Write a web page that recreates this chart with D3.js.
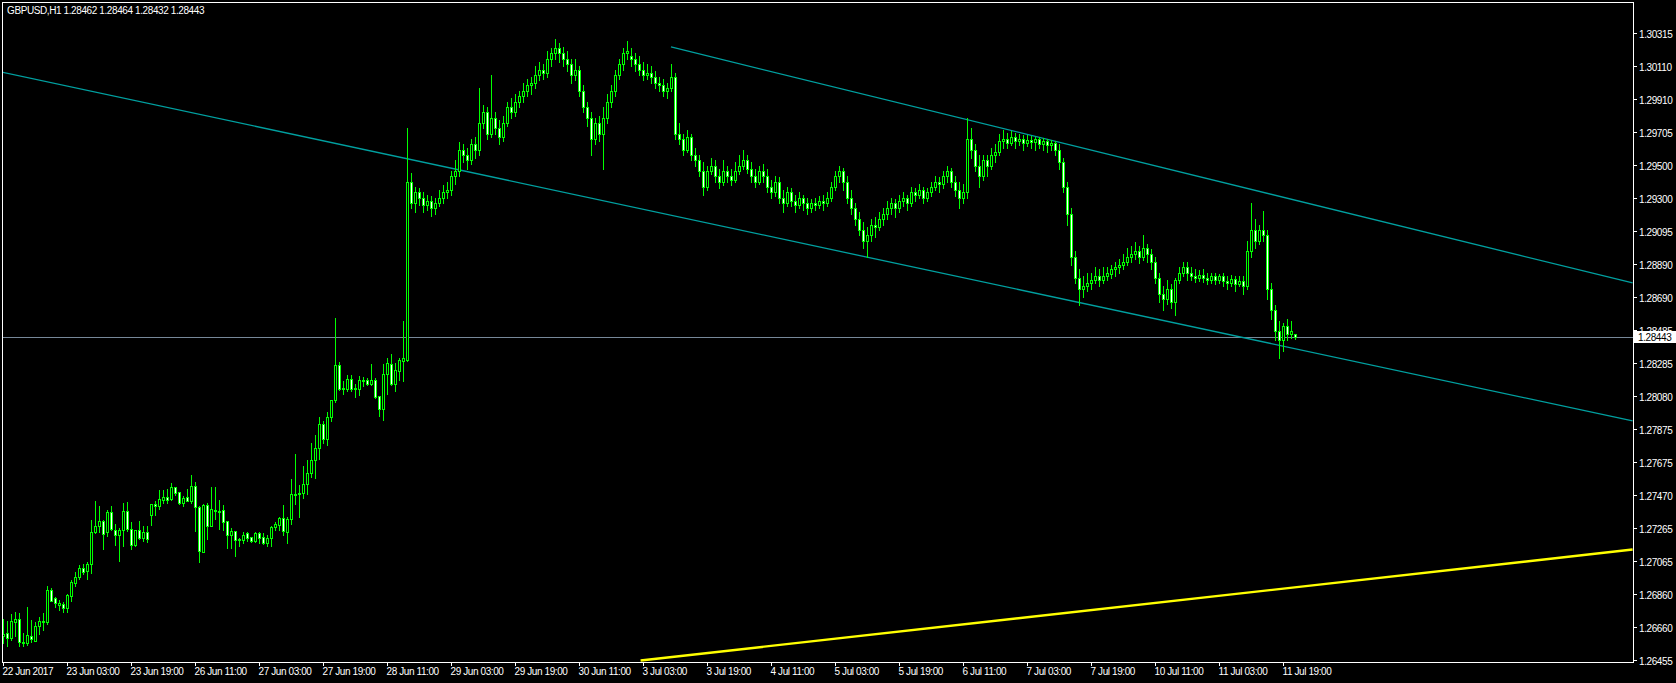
<!DOCTYPE html>
<html><head><meta charset="utf-8">
<script src="https://cdn.jsdelivr.net/npm/d3@7"></script>
<style>html,body{margin:0;padding:0;background:#000;overflow:hidden}</style>
</head><body><svg id="c" width="1676" height="683"></svg>
<script>
const titleText = "GBPUSD,H1  1.28462 1.28464 1.28432 1.28443";
const timeLabels = ["22 Jun 2017","23 Jun 03:00","23 Jun 19:00","26 Jun 11:00","27 Jun 03:00","27 Jun 19:00","28 Jun 11:00","29 Jun 03:00","29 Jun 19:00","30 Jun 11:00","3 Jul 03:00","3 Jul 19:00","4 Jul 11:00","5 Jul 03:00","5 Jul 19:00","6 Jul 11:00","7 Jul 03:00","7 Jul 19:00","10 Jul 11:00","11 Jul 03:00","11 Jul 19:00"];
const timeLabelBars = [0,16,32,48,64,80,96,112,128,144,160,176,192,208,224,240,256,272,288,304,320];
const priceTicks = [1.30315,1.30110,1.29910,1.29705,1.29500,1.29300,1.29095,1.28890,1.28690,1.28485,1.28285,1.28080,1.27875,1.27675,1.27470,1.27265,1.27065,1.26860,1.26660,1.26455];
const lastPrice = 1.28443;

const opens = [1.26600,1.26620,1.26588,1.26692,1.26707,1.26567,1.26559,1.26602,1.26575,1.26662,
1.26690,1.26692,1.26885,1.26836,1.26791,1.26797,1.26778,1.26852,1.26932,1.26963,
1.27020,1.27004,1.27043,1.27246,1.27277,1.27309,1.27246,1.27365,1.27254,1.27227,
1.27256,1.27371,1.27260,1.27164,1.27254,1.27203,1.27242,1.27350,1.27416,1.27400,
1.27441,1.27457,1.27445,1.27518,1.27488,1.27424,1.27457,1.27436,1.27527,1.27397,
1.27121,1.27408,1.27277,1.27379,1.27373,1.27379,1.27311,1.27227,1.27248,1.27192,
1.27195,1.27238,1.27211,1.27190,1.27236,1.27211,1.27178,1.27203,1.27272,1.27287,
1.27328,1.27240,1.27322,1.27473,1.27475,1.27484,1.27537,1.27604,1.27686,1.27758,
1.27908,1.27813,1.27949,1.28053,1.28269,1.28121,1.28121,1.28182,1.28129,1.28121,
1.28174,1.28176,1.28152,1.28176,1.28078,1.28002,1.28213,1.28277,1.28154,1.28236,
1.28297,1.28302,
1.29398,1.29268,1.29334,1.29301,1.29255,1.29281,1.29235,1.29268,1.29301,1.29334,
1.29347,1.29432,1.29465,1.29597,1.29564,1.29531,1.29630,1.29597,1.29761,1.29827,
1.29695,1.29794,1.29728,1.29676,1.29761,1.29860,1.29827,1.29893,1.29926,1.29959,
1.29992,1.30005,1.30057,1.30090,1.30071,1.30156,1.30189,1.30222,1.30189,1.30156,
1.30123,1.30057,1.30090,1.29959,1.29860,1.29794,1.29663,1.29761,1.29695,1.29794,
1.29893,1.29959,1.30057,1.30123,1.30189,1.30176,1.30156,1.30123,1.30090,1.30057,
1.30071,1.30044,1.30005,1.29992,1.29959,1.29978,1.30044,1.29695,1.29663,1.29597,
1.29676,1.29564,1.29531,1.29465,1.29366,1.29465,1.29498,1.29432,1.29399,1.29465,
1.29432,1.29413,1.29465,1.29498,1.29531,1.29478,1.29432,1.29399,1.29465,1.29432,
1.29366,1.29334,1.29399,1.29301,1.29268,1.29334,1.29281,1.29255,1.29301,1.29268,
1.29235,1.29268,1.29255,1.29281,1.29268,1.29301,1.29366,1.29432,1.29465,1.29399,
1.29301,1.29235,1.29169,1.29103,1.29037,1.29070,1.29136,1.29123,1.29169,1.29202,
1.29235,1.29268,1.29235,1.29281,1.29301,1.29268,1.29334,1.29320,1.29347,1.29301,
1.29334,1.29366,1.29399,1.29386,1.29432,1.29465,1.29399,1.29347,1.29301,1.29334,
1.29663,1.29597,1.29498,1.29432,1.29531,1.29498,1.29564,1.29584,1.29649,1.29663,
1.29636,1.29676,1.29649,1.29663,1.29636,1.29656,1.29643,1.29663,1.29630,1.29649,
1.29623,1.29636,1.29597,1.29518,1.29366,1.29202,1.28939,1.28807,1.28741,1.28755,
1.28774,1.28794,1.28820,1.28794,1.28820,1.28834,1.28860,1.28873,1.28886,1.28906,
1.28939,1.28952,1.28972,1.28939,1.28991,1.28952,1.28906,1.28807,1.28708,1.28676,
1.28741,1.28662,1.28794,1.28840,1.28873,1.28840,1.28820,1.28807,1.28827,1.28807,
1.28794,1.28820,1.28794,1.28820,1.28787,1.28774,1.28801,1.28768,1.28787,1.28755,
1.28972,1.29103,1.29037,1.29103,1.29070,1.28741,1.28610,1.28478,1.28426,1.28511,
1.28465,1.28462];
const highs = [1.26709,1.26696,1.26739,1.26752,1.26746,1.26623,1.26782,1.26702,1.26690,1.26721,
1.26746,1.26912,1.26899,1.26844,1.26823,1.26811,1.26864,1.26948,1.26999,1.27037,
1.27045,1.27057,1.27318,1.27434,1.27404,1.27318,1.27379,1.27402,1.27291,1.27268,
1.27422,1.27428,1.27303,1.27256,1.27311,1.27277,1.27279,1.27416,1.27436,1.27502,
1.27502,1.27506,1.27545,1.27522,1.27490,1.27465,1.27506,1.27594,1.27551,1.27404,
1.27416,1.27422,1.27520,1.27520,1.27441,1.27412,1.27313,1.27270,1.27250,1.27205,
1.27246,1.27244,1.27215,1.27240,1.27240,1.27236,1.27223,1.27277,1.27307,1.27338,
1.27410,1.27334,1.27570,1.27723,1.27533,1.27650,1.27687,1.27791,1.27840,1.27951,
1.27926,1.27979,1.28055,1.28560,1.28287,1.28170,1.28209,1.28209,1.28154,1.28201,
1.28195,1.28189,1.28277,1.28189,1.28078,1.28277,1.28312,1.28338,1.28281,1.28312,
1.28542,1.29730,
1.29452,1.29366,1.29360,1.29334,1.29320,1.29314,1.29301,1.29347,1.29380,1.29399,
1.29465,1.29531,1.29643,1.29630,1.29610,1.29663,1.29676,1.29978,1.29873,1.29860,
1.30057,1.29827,1.29781,1.29807,1.29893,1.29913,1.29939,1.29959,1.30005,1.30031,
1.30044,1.30110,1.30136,1.30123,1.30202,1.30222,1.30275,1.30255,1.30228,1.30202,
1.30156,1.30156,1.30110,1.29992,1.29893,1.29827,1.29794,1.29807,1.29860,1.29939,
1.29992,1.30090,1.30156,1.30222,1.30268,1.30222,1.30189,1.30176,1.30136,1.30123,
1.30110,1.30084,1.30044,1.30031,1.30005,1.30123,1.30071,1.29761,1.29695,1.29715,
1.29695,1.29610,1.29564,1.29518,1.29498,1.29544,1.29531,1.29478,1.29531,1.29498,
1.29478,1.29518,1.29564,1.29597,1.29564,1.29518,1.29478,1.29498,1.29511,1.29478,
1.29413,1.29432,1.29426,1.29347,1.29366,1.29360,1.29320,1.29334,1.29320,1.29301,
1.29294,1.29301,1.29314,1.29320,1.29334,1.29399,1.29465,1.29498,1.29485,1.29432,
1.29347,1.29268,1.29215,1.29149,1.29123,1.29169,1.29182,1.29215,1.29235,1.29281,
1.29301,1.29294,1.29320,1.29334,1.29320,1.29366,1.29360,1.29386,1.29366,1.29360,
1.29399,1.29432,1.29426,1.29465,1.29498,1.29485,1.29432,1.29399,1.29386,1.29794,
1.29728,1.29630,1.29564,1.29564,1.29564,1.29610,1.29630,1.29695,1.29715,1.29702,
1.29709,1.29702,1.29695,1.29689,1.29689,1.29682,1.29676,1.29676,1.29669,1.29663,
1.29656,1.29649,1.29630,1.29544,1.29399,1.29235,1.28972,1.28860,1.28820,1.28840,
1.28840,1.28873,1.28860,1.28873,1.28873,1.28886,1.28906,1.28926,1.28952,1.28991,
1.29005,1.29031,1.29005,1.29070,1.29018,1.28985,1.28939,1.28840,1.28755,1.28794,
1.28768,1.28807,1.28873,1.28906,1.28906,1.28873,1.28860,1.28853,1.28860,1.28840,
1.28840,1.28840,1.28834,1.28840,1.28820,1.28827,1.28820,1.28820,1.28820,1.29037,
1.29268,1.29169,1.29136,1.29222,1.29103,1.28774,1.28643,1.28544,1.28531,1.28557,
1.28544,1.28464];
const lows = [1.26559,1.26543,1.26580,1.26600,1.26543,1.26539,1.26549,1.26563,1.26575,1.26618,
1.26641,1.26674,1.26817,1.26784,1.26764,1.26748,1.26752,1.26821,1.26912,1.26951,
1.26985,1.26955,1.26992,1.27236,1.27244,1.27141,1.27219,1.27256,1.27164,1.27067,
1.27154,1.27252,1.27141,1.27158,1.27201,1.27186,1.27184,1.27287,1.27348,1.27387,
1.27420,1.27424,1.27441,1.27469,1.27416,1.27400,1.27436,1.27424,1.27252,1.27061,
1.27117,1.27201,1.27277,1.27326,1.27260,1.27256,1.27145,1.27145,1.27098,1.27154,
1.27174,1.27190,1.27182,1.27184,1.27178,1.27170,1.27158,1.27158,1.27256,1.27256,
1.27227,1.27178,1.27293,1.27416,1.27338,1.27455,1.27477,1.27582,1.27578,1.27694,
1.27789,1.27780,1.27928,1.28045,1.28117,1.28094,1.28113,1.28113,1.28076,1.28086,
1.28141,1.28150,1.28150,1.28070,1.27957,1.27932,1.28092,1.28148,1.28111,1.28178,
1.28172,1.28298,
1.29235,1.29215,1.29255,1.29215,1.29228,1.29189,1.29202,1.29248,1.29268,1.29301,
1.29320,1.29386,1.29432,1.29518,1.29478,1.29511,1.29544,1.29564,1.29728,1.29663,
1.29676,1.29695,1.29630,1.29649,1.29742,1.29794,1.29807,1.29860,1.29893,1.29926,
1.29939,1.29978,1.30024,1.30031,1.30044,1.30110,1.30156,1.30136,1.30110,1.30084,
1.30005,1.30024,1.29926,1.29827,1.29742,1.29564,1.29630,1.29649,1.29478,1.29761,
1.29860,1.29926,1.30031,1.30090,1.30156,1.30110,1.30084,1.30057,1.30024,1.30031,
1.30005,1.29978,1.29959,1.29926,1.29913,1.29959,1.29663,1.29630,1.29564,1.29584,
1.29531,1.29498,1.29432,1.29320,1.29347,1.29445,1.29399,1.29360,1.29380,1.29399,
1.29380,1.29399,1.29445,1.29478,1.29452,1.29399,1.29366,1.29386,1.29399,1.29334,
1.29301,1.29314,1.29268,1.29215,1.29248,1.29248,1.29215,1.29235,1.29228,1.29202,
1.29215,1.29228,1.29235,1.29228,1.29248,1.29281,1.29347,1.29399,1.29347,1.29268,
1.29202,1.29136,1.29070,1.28991,1.28939,1.29037,1.29057,1.29103,1.29136,1.29169,
1.29202,1.29182,1.29215,1.29248,1.29228,1.29248,1.29281,1.29301,1.29268,1.29281,
1.29314,1.29347,1.29334,1.29360,1.29399,1.29366,1.29314,1.29235,1.29268,1.29301,
1.29544,1.29465,1.29366,1.29413,1.29432,1.29478,1.29518,1.29564,1.29610,1.29610,
1.29623,1.29610,1.29623,1.29597,1.29617,1.29610,1.29597,1.29610,1.29597,1.29584,
1.29597,1.29564,1.29478,1.29334,1.29136,1.28886,1.28774,1.28643,1.28689,1.28728,
1.28741,1.28774,1.28755,1.28774,1.28794,1.28807,1.28820,1.28840,1.28860,1.28886,
1.28906,1.28926,1.28899,1.28919,1.28906,1.28860,1.28774,1.28662,1.28610,1.28649,
1.28623,1.28577,1.28774,1.28820,1.28794,1.28794,1.28781,1.28787,1.28781,1.28768,
1.28774,1.28768,1.28774,1.28755,1.28741,1.28755,1.28728,1.28755,1.28708,1.28741,
1.28939,1.28991,1.29018,1.29037,1.28676,1.28557,1.28426,1.28314,1.28360,1.28426,
1.28439,1.28432];
const closes = [1.26616,1.26588,1.26694,1.26707,1.26563,1.26559,1.26608,1.26584,1.26664,1.26694,
1.26694,1.26885,1.26821,1.26805,1.26807,1.26778,1.26856,1.26934,1.26965,1.27020,
1.26999,1.27045,1.27242,1.27279,1.27309,1.27233,1.27365,1.27260,1.27227,1.27256,
1.27371,1.27260,1.27160,1.27254,1.27203,1.27242,1.27199,1.27416,1.27400,1.27445,
1.27457,1.27441,1.27518,1.27486,1.27424,1.27451,1.27436,1.27527,1.27395,1.27123,
1.27408,1.27277,1.27383,1.27371,1.27369,1.27307,1.27227,1.27250,1.27195,1.27199,
1.27225,1.27207,1.27190,1.27236,1.27207,1.27176,1.27207,1.27272,1.27293,1.27328,
1.27248,1.27322,1.27475,1.27477,1.27484,1.27537,1.27604,1.27684,1.27758,1.27908,
1.27813,1.27949,1.28053,1.28269,1.28125,1.28129,1.28182,1.28125,1.28121,1.28176,
1.28178,1.28152,1.28176,1.28076,1.28002,1.28213,1.28281,1.28154,1.28240,1.28302,
1.28314,1.29398,
1.29268,1.29334,1.29301,1.29255,1.29281,1.29235,1.29268,1.29301,1.29334,1.29347,
1.29432,1.29465,1.29597,1.29564,1.29531,1.29630,1.29597,1.29761,1.29827,1.29695,
1.29794,1.29728,1.29676,1.29761,1.29860,1.29827,1.29893,1.29926,1.29959,1.29992,
1.30005,1.30057,1.30090,1.30071,1.30156,1.30189,1.30222,1.30189,1.30156,1.30123,
1.30057,1.30090,1.29959,1.29860,1.29794,1.29663,1.29761,1.29695,1.29794,1.29893,
1.29959,1.30057,1.30123,1.30189,1.30202,1.30156,1.30123,1.30090,1.30057,1.30071,
1.30044,1.30005,1.29992,1.29959,1.29978,1.30044,1.29695,1.29663,1.29597,1.29676,
1.29564,1.29531,1.29465,1.29366,1.29465,1.29498,1.29432,1.29399,1.29465,1.29432,
1.29413,1.29465,1.29498,1.29531,1.29478,1.29432,1.29399,1.29465,1.29432,1.29366,
1.29334,1.29399,1.29301,1.29268,1.29334,1.29281,1.29255,1.29301,1.29268,1.29235,
1.29268,1.29255,1.29281,1.29268,1.29301,1.29366,1.29432,1.29465,1.29399,1.29301,
1.29235,1.29169,1.29103,1.29037,1.29070,1.29136,1.29123,1.29169,1.29202,1.29235,
1.29268,1.29235,1.29281,1.29301,1.29268,1.29334,1.29320,1.29347,1.29301,1.29334,
1.29366,1.29399,1.29386,1.29432,1.29465,1.29399,1.29347,1.29301,1.29334,1.29663,
1.29597,1.29498,1.29432,1.29531,1.29498,1.29564,1.29584,1.29649,1.29663,1.29636,
1.29676,1.29649,1.29663,1.29636,1.29656,1.29643,1.29663,1.29630,1.29649,1.29623,
1.29636,1.29597,1.29518,1.29366,1.29202,1.28939,1.28807,1.28741,1.28755,1.28774,
1.28794,1.28820,1.28794,1.28820,1.28840,1.28860,1.28873,1.28886,1.28906,1.28939,
1.28952,1.28972,1.28939,1.28991,1.28952,1.28906,1.28807,1.28708,1.28676,1.28741,
1.28662,1.28794,1.28840,1.28873,1.28840,1.28820,1.28807,1.28827,1.28807,1.28794,
1.28820,1.28794,1.28820,1.28787,1.28774,1.28801,1.28768,1.28787,1.28755,1.28972,
1.29103,1.29037,1.29103,1.29070,1.28741,1.28610,1.28478,1.28426,1.28511,1.28465,
1.28478,1.28443];

// trend lines: [bar index, price]
const channelLower = [[-0.8,1.30077],[407.4,1.27927]];
const channelUpper = [[167,1.30229],[407.4,1.28776]];
const yellowLine = [[159.4,1.26452],[407.4,1.27135]];

const W = 1676, H = 683;
const L = 2, R = 1633, T = 2, B = 662;
const svg = d3.select("#c");
svg.append("rect").attr("width",W).attr("height",H).attr("fill","#000");

const x = d3.scaleLinear().domain([0,320]).range([3,1283]);
const y = d3.scaleLinear().domain([1.26455,1.30315]).range([660,33]);

const font = "'Liberation Sans', Arial, sans-serif";

svg.append("defs").append("clipPath").attr("id","plot")
  .append("rect").attr("x",L+1).attr("y",T+1).attr("width",R-L-1).attr("height",B-T-1);

const plot = svg.append("g").attr("clip-path","url(#plot)");

// price line
plot.append("line").attr("x1",L).attr("x2",R)
  .attr("y1",Math.round(y(lastPrice))+0.5).attr("y2",Math.round(y(lastPrice))+0.5)
  .attr("stroke","#778899").attr("stroke-width",1);

// trend lines
const lineGen = d3.line().x(d=>x(d[0])).y(d=>y(d[1]));
plot.append("path").attr("d",lineGen(channelLower)).attr("fill","none").attr("stroke","#00A0A0").attr("stroke-width",1.3);
plot.append("path").attr("d",lineGen(channelUpper)).attr("fill","none").attr("stroke","#00A0A0").attr("stroke-width",1.3);
plot.append("path").attr("d",lineGen(yellowLine)).attr("fill","none").attr("stroke","#FFFF00").attr("stroke-width",2.4);

// candles
const candles = opens.map((o,i)=>({i,o,h:highs[i],l:lows[i],c:closes[i]}));
const green = "#00FF00";
const cg = plot.append("g");
candles.forEach(d=>{
  const cx = Math.round(x(d.i));
  const yh = Math.round(y(d.h)), yl = Math.round(y(d.l));
  const yt = Math.round(y(Math.max(d.o,d.c))), yb = Math.round(y(Math.min(d.o,d.c)));
  cg.append("rect").attr("x",cx).attr("width",1).attr("y",yh).attr("height",Math.max(1,yl-yh+1)).attr("fill",green);
  cg.append("rect").attr("x",cx-1).attr("width",3).attr("y",yt).attr("height",Math.max(1,yb-yt+1)).attr("fill",green);
  if (yb-yt-1>0) {
    cg.append("rect").attr("x",cx).attr("width",1).attr("y",yt+1).attr("height",yb-yt-1)
      .attr("fill", d.c < d.o ? "#FFFFFF" : "#000000");
  }
});

// frame
svg.append("rect").attr("x",L+0.5).attr("y",T+0.5).attr("width",R-L).attr("height",B-T)
  .attr("fill","none").attr("stroke","#fff").attr("stroke-width",1);

// right axis
const ra = svg.append("g");
priceTicks.forEach(v=>{
  const yy = Math.round(y(v))+0.5;
  ra.append("line").attr("x1",R).attr("x2",R+4).attr("y1",yy).attr("y2",yy).attr("stroke","#fff");
  ra.append("text").attr("x",R+6).attr("y",yy+4).attr("fill","#fff")
    .attr("font-family",font).attr("font-size","10px").attr("letter-spacing","-0.4px").text(d3.format(".5f")(v));
});
// last price label
const ly = Math.round(y(lastPrice));
ra.append("rect").attr("x",R+1).attr("y",ly-6).attr("width",W-R-1).attr("height",12).attr("fill","#fff");
ra.append("text").attr("x",R+5).attr("y",ly+4).attr("fill","#000")
  .attr("font-family",font).attr("font-size","10px").attr("letter-spacing","-0.4px").text(d3.format(".5f")(lastPrice));

// bottom axis
const ba = svg.append("g");
timeLabels.forEach((t,k)=>{
  const xx = Math.round(x(timeLabelBars[k]))+0.5;
  ba.append("line").attr("x1",xx).attr("x2",xx).attr("y1",B).attr("y2",B+4).attr("stroke","#fff");
  ba.append("text").attr("x",xx-1).attr("y",675).attr("fill","#fff")
    .attr("font-family",font).attr("font-size","10px").attr("letter-spacing","-0.4px").text(t);
});

// title
svg.append("text").attr("x",7).attr("y",14).attr("fill","#fff")
  .attr("font-family",font).attr("font-size","10px").attr("letter-spacing","-0.4px").text(titleText);
</script></body></html>
